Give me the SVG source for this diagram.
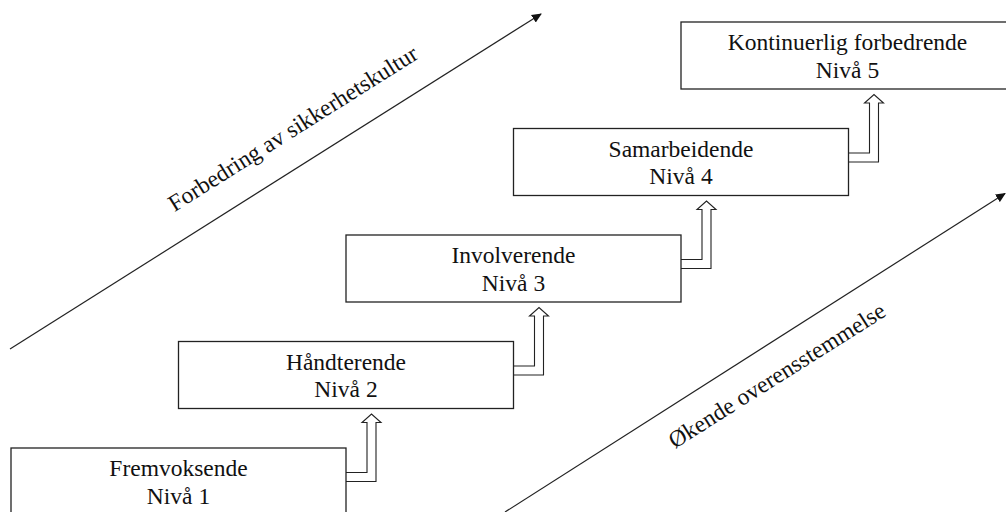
<svg xmlns="http://www.w3.org/2000/svg" width="1006" height="512" viewBox="0 0 1006 512">
<style>
.box{fill:#fff;stroke:#222;stroke-width:1.3}
.lbl{font-family:"Liberation Serif","Times New Roman",serif;font-size:23.5px;fill:#111;text-anchor:middle}
.dbl{fill:none;stroke:#222;stroke-width:1.1}
.diag{stroke:#222;stroke-width:1.2;fill:none;marker-end:url(#ah)}
</style>
<defs>
<marker id="ah" viewBox="0 0 10 10" refX="9" refY="5" markerWidth="10" markerHeight="10" markerUnits="userSpaceOnUse" orient="auto">
<path d="M0,0.5 L10,5 L0,9.5 Z" fill="#111"/>
</marker>
</defs>
<rect width="1006" height="512" fill="#fff"/>
<g id="connectors">
<path class="diag" d="M10,349 L541,14"/>
<path class="diag" d="M505,512 L1005,193.5"/>
<path class="dbl" d="M346,472.5 H367 V422.5 H362 L371.5,414 L381,422.5 H376 V481.5 H346"/>
<path class="dbl" d="M513.5,366 H534.5 V316 H529.5 L539,307.5 L548.5,316 H543.5 V375 H513.5"/>
<path class="dbl" d="M681,259.5 H702 V209.5 H697 L706.5,201 L716,209.5 H711 V268.5 H681"/>
<path class="dbl" d="M848.5,153 H869.5 V103 H864.5 L874,94.5 L883.5,103 H878.5 V162 H848.5"/>
</g>
<g id="node1">
<rect class="box" x="11" y="448" width="335" height="67"/>
<text class="lbl" x="178.5" y="476">Fremvoksende</text>
<text class="lbl" x="178.5" y="503.5">Nivå 1</text>
</g>
<g id="node2">
<rect class="box" x="178.5" y="341.5" width="335" height="67"/>
<text class="lbl" x="346" y="369.5">Håndterende</text>
<text class="lbl" x="346" y="397">Nivå 2</text>
</g>
<g id="node3">
<rect class="box" x="346" y="235" width="335" height="67"/>
<text class="lbl" x="513.5" y="263">Involverende</text>
<text class="lbl" x="513.5" y="290.5">Nivå 3</text>
</g>
<g id="node4">
<rect class="box" x="513.5" y="128.5" width="335" height="67"/>
<text class="lbl" x="681" y="156.5">Samarbeidende</text>
<text class="lbl" x="681" y="184">Nivå 4</text>
</g>
<g id="node5">
<rect class="box" x="681" y="22" width="333" height="67"/>
<text class="lbl" x="847.5" y="50">Kontinuerlig forbedrende</text>
<text class="lbl" x="847.5" y="77.5">Nivå 5</text>
</g>
<g id="axis-labels">
<text class="lbl" transform="translate(297,135) rotate(-32.2)">Forbedring av sikkerhetskultur</text>
<text class="lbl" transform="translate(781,382) rotate(-32.2)">Økende overensstemmelse</text>
</g>
</svg>
